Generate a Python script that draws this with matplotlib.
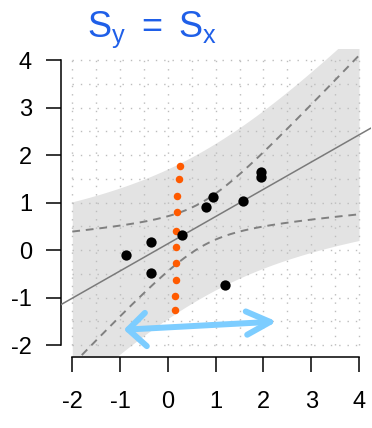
import numpy as np
import matplotlib
matplotlib.use("Agg")
import matplotlib.pyplot as plt

plt.rcParams['font.family'] = ['Liberation Sans', 'DejaVu Sans']
plt.rcParams['mathtext.fontset'] = 'custom'
plt.rcParams['mathtext.rm'] = 'Liberation Sans'
plt.rcParams['mathtext.it'] = 'Liberation Sans'

# Observations
x_obs = [-0.88, -0.35, -0.35, 0.30, 0.80, 0.94, 1.19, 1.57, 1.94, 1.94]
y_obs = [-0.10, 0.17, -0.48, 0.31, 0.90, 1.12, -0.73, 1.04, 1.64, 1.54]

# Axis ticks
ticks = [-2, -1, 0, 1, 2, 3, 4]
tick_labels = ["-2", "-1", "0", "1", "2", "3", "4"]

# Hand-drawn annotations: orange vertical dotted stroke and blue double arrow
orange_x = [0.254, 0.239, 0.198, 0.185, 0.164, 0.164, 0.164, 0.164, 0.156, 0.156]
orange_y = [1.773, 1.500, 1.149, 0.792, 0.399, 0.063, -0.273, -0.637, -0.973, -1.267]
arrow_shaft_x = [-0.83, 2.14]
arrow_shaft_y = [-1.67, -1.51]
arrow_left_x = [-0.48, -0.83, -0.44]
arrow_left_y = [-1.32, -1.67, -2.02]
arrow_right_x = [1.63, 2.14, 1.66]
arrow_right_y = [-1.29, -1.51, -1.78]

title_text = r"$\mathrm{S}_{\mathrm{y}}\ =\ \mathrm{S}_{\mathrm{x}}$"

# Least-squares fit with 95% confidence and prediction bands
x = np.array(x_obs)
y = np.array(y_obs)
n = len(x)
b1, b0 = np.polyfit(x, y, 1)
resid = y - (b0 + b1 * x)
s = np.sqrt(np.sum(resid ** 2) / (n - 2))
t_crit = 2.306  # t quantile 0.975 with 8 df
xbar = x.mean()
sxx = np.sum((x - xbar) ** 2)
xg = np.linspace(-2, 4, 300)
yhat = b0 + b1 * xg
se_mean = s * np.sqrt(1 / n + (xg - xbar) ** 2 / sxx)
se_pred = s * np.sqrt(1 + 1 / n + (xg - xbar) ** 2 / sxx)

fig = plt.figure(figsize=(3.72, 4.28), dpi=100)
ax = fig.add_axes([60.8 / 372, (428 - 356.6) / 428, 309.7 / 372, 308 / 428])
ax.set_xlim(-2.24, 4.24)
ax.set_ylim(-2.24, 4.24)

ax.fill_between(xg, yhat - t_crit * se_pred, yhat + t_crit * se_pred,
                color='#e3e3e3', lw=0, zorder=1)

for g in np.arange(-2, 4.01, 0.5):
    ax.plot([g, g], [-2, 4], color='#bdbdbd', lw=1.0, dashes=(1, 5), zorder=2)
    ax.plot([-2, 4], [g, g], color='#bdbdbd', lw=1.0, dashes=(1, 5), zorder=2)

ax.plot(xg, yhat + t_crit * se_mean, color='#808080', lw=1.4, dashes=(4, 3), zorder=3)
ax.plot(xg, yhat - t_crit * se_mean, color='#808080', lw=1.4, dashes=(4, 3), zorder=3)
ax.axline((0, b0), slope=b1, color='#7a7a7a', lw=1.1, zorder=3)

ax.scatter(x_obs, y_obs, s=55, color='black', lw=0, zorder=5)

ax.plot(orange_x, orange_y, 'o', color='#ff5a00', ms=5.4, mec='none', zorder=4)

blue = '#7dcdff'
for xs, ys in [(arrow_shaft_x, arrow_shaft_y), (arrow_left_x, arrow_left_y),
               (arrow_right_x, arrow_right_y)]:
    ax.plot(xs, ys, color=blue, lw=4.3, solid_capstyle='round',
            solid_joinstyle='round', zorder=6)

for side in ['top', 'right']:
    ax.spines[side].set_visible(False)
for side in ['left', 'bottom']:
    ax.spines[side].set_bounds(-2, 4)
    ax.spines[side].set_linewidth(1.1)

ax.set_xticks(ticks)
ax.set_xticklabels(tick_labels)
ax.set_yticks(ticks)
ax.set_yticklabels(tick_labels)
ax.tick_params(direction='out', length=10.8, width=1.1, labelsize=17, color='black')
ax.tick_params(axis='x', pad=14)
ax.tick_params(axis='y', pad=10)

fig.text(87 / 372, 1 - 30 / 428, title_text, color='#1f5fe8', fontsize=26,
         va='center', ha='left')

fig.savefig('out.png', dpi=100)
